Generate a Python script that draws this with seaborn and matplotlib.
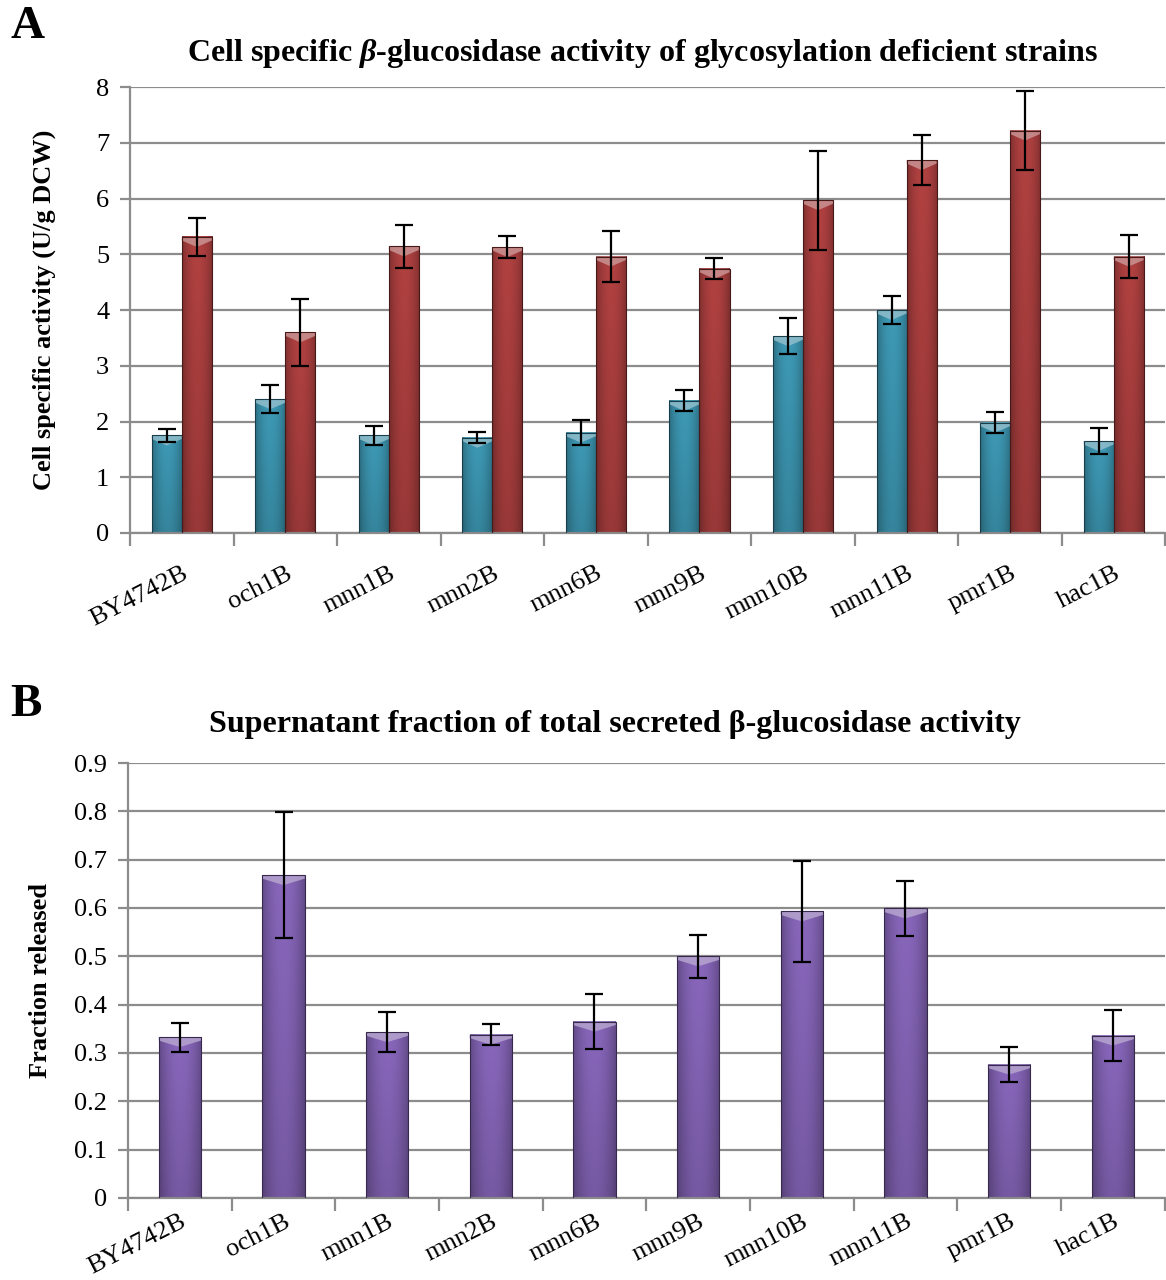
import numpy as np
import pandas as pd
import matplotlib
matplotlib.use("Agg")
import matplotlib.pyplot as plt
import matplotlib.colors as mcolors
from matplotlib.patches import Polygon
from matplotlib.ticker import FixedLocator
import seaborn as sns

# ---- data ----
strains = ["BY4742B", "och1B", "mnn1B", "mnn2B", "mnn6B",
           "mnn9B", "mnn10B", "mnn11B", "pmr1B", "hac1B"]
# panel A: two series per strain (blue, red)
act_blue = [1.75, 2.40, 1.75, 1.71, 1.80, 2.37, 3.53, 4.00, 1.98, 1.65]
err_blue = [0.12, 0.25, 0.17, 0.10, 0.23, 0.19, 0.32, 0.25, 0.19, 0.23]
act_red = [5.31, 3.60, 5.14, 5.13, 4.96, 4.74, 5.97, 6.69, 7.22, 4.96]
err_red = [0.34, 0.60, 0.38, 0.20, 0.45, 0.19, 0.89, 0.45, 0.70, 0.38]
# panel B
frac = [0.333, 0.668, 0.343, 0.338, 0.365, 0.500, 0.593, 0.599, 0.276, 0.336]
frac_err = [0.030, 0.131, 0.042, 0.022, 0.057, 0.044, 0.104, 0.056, 0.037, 0.052]

blue = "#3789A2"
red = "#9E3A3A"
purple = "#7A5CA8"
grid_col = "#8C8C8C"

sns.set_theme(style="white")
plt.rcParams['font.family'] = ['Liberation Serif', 'DejaVu Serif']
plt.rcParams['mathtext.fontset'] = 'custom'
plt.rcParams['mathtext.rm'] = 'Liberation Serif:bold'
plt.rcParams['mathtext.it'] = 'Liberation Serif:bold:italic'
plt.rcParams['text.color'] = 'black'
plt.rcParams['axes.labelcolor'] = 'black'
plt.rcParams['xtick.labelcolor'] = 'black'
plt.rcParams['ytick.labelcolor'] = 'black'


def shade_bars(ax, bars, color):
    # fake the excel bevel: lighter middle, darker sides, light top
    base = np.array(mcolors.to_rgb(color))
    xs = np.linspace(-1, 1, 80)
    ys = np.linspace(0, 1, 40)
    prof = 1.10 - 0.30 * xs ** 2
    vprof = 0.88 + 0.14 * ys
    img = base[None, None, :] * prof[None, :, None] * vprof[::-1][:, None, None]
    img = np.clip(img, 0, 1)
    t = ax.transData
    px_per_unit = t.transform((0, 1))[1] - t.transform((0, 0))[1]
    dy = 10.0 / px_per_unit
    light = base + (1 - base) * 0.45
    for p in bars:
        x0, y0 = p.get_x(), p.get_y()
        w, h = p.get_width(), p.get_height()
        ax.imshow(img, extent=(x0, x0 + w, y0, y0 + h), aspect='auto',
                  interpolation='bilinear', zorder=2)
        p.set_facecolor('none')
        p.set_edgecolor(tuple(base * 0.45))
        p.set_linewidth(0.8)
        p.set_zorder(3)
        top = y0 + h
        xc = x0 + w / 2
        ax.add_patch(Polygon([(x0, top), (x0 + w, top), (x0 + w, top - dy * 0.35),
                              (xc, top - dy), (x0, top - dy * 0.35)],
                             closed=True, facecolor=light, edgecolor='none',
                             alpha=0.85, zorder=2.5))


def style_axis(ax, ymax, yticks, ticklabs, fs_tick, xpad):
    ax.set_xlim(-0.5, len(strains) - 0.5)
    ax.set_ylim(0, ymax)
    ax.set_yticks(yticks)
    ax.set_yticklabels(ticklabs, fontsize=fs_tick)
    ax.yaxis.grid(True, color=grid_col, lw=1.6)
    ax.set_axisbelow(True)
    for s in ['top', 'right']:
        ax.spines[s].set_visible(False)
    for s in ['left', 'bottom']:
        ax.spines[s].set_color(grid_col)
        ax.spines[s].set_linewidth(1.6)
    ax.tick_params(axis='y', which='major', left=True, length=7, width=1.6,
                   color=grid_col, pad=8, labelcolor='black')
    ax.xaxis.set_minor_locator(FixedLocator(np.arange(-0.5, len(strains), 1.0)))
    ax.tick_params(axis='x', which='minor', bottom=True, length=9, width=1.6,
                   color=grid_col)
    ax.tick_params(axis='x', which='major', bottom=False, length=0, pad=xpad,
                   labelcolor='black')
    ax.set_xticks(range(len(strains)))
    ax.set_xticklabels(strains, rotation=27, ha='right', rotation_mode='anchor',
                       fontsize=19)
    ax.set_xlabel("")


fig = plt.figure(figsize=(11.66, 12.8), dpi=100)
axA = fig.add_axes([0.1115, 0.5836, 0.888, 0.3484])
axB = fig.add_axes([0.1098, 0.0641, 0.889, 0.3398])

# ---- panel A ----
dfA = pd.DataFrame({
    "strain": strains * 2,
    "activity": act_blue + act_red,
    "series": ["s1"] * len(strains) + ["s2"] * len(strains),
})
sns.barplot(data=dfA, x="strain", y="activity", hue="series",
            palette=[blue, red], width=0.58, gap=0, errorbar=None,
            legend=False, ax=axA)
style_axis(axA, 8, range(0, 9), [str(i) for i in range(9)], 19, 21)
for cont, col, errs, vals in zip(axA.containers, [blue, red],
                                 [err_blue, err_red], [act_blue, act_red]):
    bars = list(cont)
    shade_bars(axA, bars, col)
    xc = [b.get_x() + b.get_width() / 2 for b in bars]
    axA.errorbar(xc, vals, yerr=errs, fmt='none', ecolor='black',
                 elinewidth=1.6, capsize=6.5, capthick=1.6, zorder=5)
axA.set_xlim(-0.5, len(strains) - 0.5)
axA.set_ylim(0, 8)
axA.set_ylabel("Cell specific activity (U/g DCW)", fontsize=19,
               fontweight='bold', labelpad=29)
axA.set_title(r"Cell specific $\it{\beta}$-glucosidase activity of glycosylation deficient strains",
              fontsize=23, fontweight='bold', pad=19, x=0.495)

# ---- panel B ----
dfB = pd.DataFrame({"strain": strains, "fraction": frac})
sns.barplot(data=dfB, x="strain", y="fraction", color=purple, width=0.41,
            errorbar=None, ax=axB)
style_axis(axB, 0.9, np.round(np.arange(0, 0.91, 0.1), 1),
           ["0"] + ["%.1f" % v for v in np.arange(0.1, 0.91, 0.1)], 19, 9)
barsB = list(axB.containers[0])
shade_bars(axB, barsB, purple)
xcB = [b.get_x() + b.get_width() / 2 for b in barsB]
axB.errorbar(xcB, frac, yerr=frac_err, fmt='none', ecolor='black',
             elinewidth=1.6, capsize=6.5, capthick=1.6, zorder=5)
axB.set_xlim(-0.5, len(strains) - 0.5)
axB.set_ylim(0, 0.9)
axB.set_ylabel("Fraction released", fontsize=19, fontweight='bold', labelpad=16)
axB.set_title("Supernatant fraction of total secreted β-glucosidase activity",
              fontsize=23, fontweight='bold', pad=22, x=0.47)

fig.text(0.009, 0.995, "A", fontsize=34, fontweight='bold', va='top', ha='left')
fig.text(0.009, 0.466, "B", fontsize=34, fontweight='bold', va='top', ha='left')

fig.savefig("out.png", dpi=100, facecolor='white')
